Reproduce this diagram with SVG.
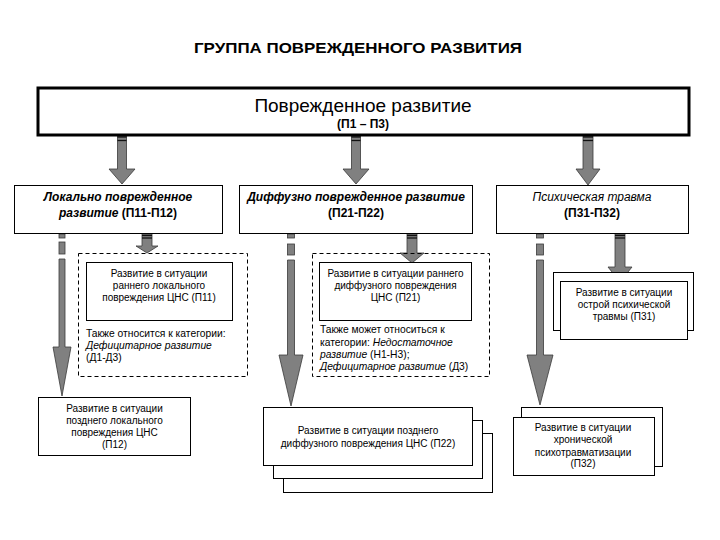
<svg xmlns="http://www.w3.org/2000/svg" width="720" height="540" viewBox="0 0 720 540">
<style>
text{font-family:"Liberation Sans",Arial,sans-serif;fill:#000}
.t{font-size:10px;text-anchor:middle}
.l{font-size:10.3px}
.h{font-size:12px;text-anchor:middle}
.bi{font-weight:bold;font-style:italic}
.i{font-style:italic}
.b{font-weight:bold}
.box{fill:#fff;stroke:#000;stroke-width:1}
.dash{fill:none;stroke:#000;stroke-width:1;stroke-dasharray:4,3}
.arr{fill:#808080;stroke:#3a3a3a;stroke-width:0.8}
.band{stroke:#111;stroke-width:1.3}
</style>
<rect width="720" height="540" fill="#fff"/>
<text x="358" y="53" font-size="15" font-weight="bold" text-anchor="middle" textLength="328" lengthAdjust="spacingAndGlyphs">ГРУППА ПОВРЕЖДЕННОГО РАЗВИТИЯ</text>

<g id="connectors">
<!-- top arrows -->
<path class="arr" d="M117.5,136 L126.5,136 L126.5,169 L135,169 L122,184 L109,169 L117.5,169 Z"/>
<line class="band" x1="117.5" y1="137" x2="126.5" y2="137"/><line class="band" x1="117.5" y1="140.5" x2="126.5" y2="140.5"/>
<path class="arr" d="M351.5,136 L360.5,136 L360.5,169 L369,169 L356,184 L343,169 L351.5,169 Z"/>
<line class="band" x1="351.5" y1="137" x2="360.5" y2="137"/><line class="band" x1="351.5" y1="140.5" x2="360.5" y2="140.5"/>
<path class="arr" d="M583,136 L593,136 L593,169 L600,169 L588,185 L576,169 L583,169 Z"/>
<line class="band" x1="583" y1="137" x2="593" y2="137"/><line class="band" x1="583" y1="140.5" x2="593" y2="140.5"/>
<!-- short second-level arrows -->
<path class="arr" d="M142,234 L152,234 L152,246 L158,246 L147,253 L136,246 L142,246 Z"/>
<line class="band" x1="142" y1="235.5" x2="152" y2="235.5"/><line class="band" x1="142" y1="238" x2="152" y2="238"/>
<path class="arr" d="M407,234 L417,234 L417,253 L424,253 L412,263 L400,253 L407,253 Z"/>
<line class="band" x1="407" y1="235.5" x2="417" y2="235.5"/><line class="band" x1="407" y1="238" x2="417" y2="238"/>
<path class="arr" d="M615,234 L625,234 L625,267 L632,267 L620,282 L608,267 L615,267 Z"/>
<line class="band" x1="615" y1="235.5" x2="625" y2="235.5"/><line class="band" x1="615" y1="238" x2="625" y2="238"/>
<!-- long arrows with broken start -->
<rect class="arr" x="59" y="234" width="6" height="4"/><rect class="arr" x="59" y="242" width="6" height="12"/>
<path class="arr" d="M59,259 L65,259 L65,347 L71,347 L62,396 L53,347 L59,347 Z"/>
<rect class="arr" x="287.5" y="234" width="7" height="4"/><rect class="arr" x="287.5" y="244" width="7" height="11"/>
<path class="arr" d="M287.5,260 L294.5,260 L294.5,355 L303,355 L291,406 L279,355 L287.5,355 Z"/>
<rect class="arr" x="536.5" y="234" width="7" height="4"/><rect class="arr" x="536.5" y="244" width="7" height="11"/>
<path class="arr" d="M536.5,260 L543.5,260 L543.5,355 L553,355 L540,405 L527,355 L536.5,355 Z"/>
</g>

<g id="root">
<rect x="38" y="88" width="651" height="47" fill="#fff" stroke="#000" stroke-width="3"/>
<text x="363" y="112" font-size="19" text-anchor="middle">Поврежденное развитие</text>
<text x="363" y="128" font-size="12" font-weight="bold" text-anchor="middle">(П1 – П3)</text>
</g>

<g id="p1">
<rect class="box" x="14.5" y="185.5" width="208" height="48"/>
<text class="h" x="118" y="201"><tspan class="bi">Локально поврежденное</tspan></text>
<text class="h" x="118" y="217"><tspan class="bi">развитие </tspan><tspan class="b">(П11-П12)</tspan></text>
</g>
<g id="p2">
<rect class="box" x="239.5" y="185.5" width="233" height="48"/>
<text class="h" x="356" y="201"><tspan class="bi">Диффузно поврежденное развитие</tspan></text>
<text class="h b" x="356" y="217">(П21-П22)</text>
</g>
<g id="p3">
<rect class="box" x="496.5" y="185.5" width="192" height="48"/>
<text class="h i" x="592" y="201" font-size="12.5">Психическая травма</text>
<text class="h b" x="592" y="217">(П31-П32)</text>
</g>

<g id="p11">
<rect class="dash" x="78.5" y="253.5" width="169" height="123"/>
<rect class="box" x="86.5" y="262.5" width="146" height="58"/>
<text class="t" x="159" y="277">Развитие в ситуации</text>
<text class="t" x="159" y="289">раннего локального</text>
<text class="t" x="159" y="301">повреждения ЦНС  (П11)</text>
<text class="l" x="86" y="337">Также относится к категории:</text>
<text class="l i" x="86" y="349">Дефицитарное развитие</text>
<text class="l" x="86" y="361">(Д1-Д3)</text>
</g>

<g id="p21">
<rect class="dash" x="312.5" y="253.5" width="177" height="123"/>
<rect class="box" x="319.5" y="262.5" width="152" height="58"/>
<text class="t" x="395.5" y="277">Развитие в ситуации раннего</text>
<text class="t" x="395.5" y="289">диффузного повреждения</text>
<text class="t" x="395.5" y="301">ЦНС (П21)</text>
<text class="l" x="320" y="333">Также может относиться к</text>
<text class="l" x="320" y="346">категории: <tspan class="i">Недостаточное</tspan></text>
<text class="l" x="320" y="358"><tspan class="i">развитие</tspan> (Н1-Н3);</text>
<text class="l" x="320" y="370"><tspan class="i">Дефицитарное развитие</tspan> (Д3)</text>
</g>

<g id="p31">
<rect class="box" x="553.5" y="272.5" width="140" height="58"/>
<rect class="box" x="560.5" y="281.5" width="127" height="58"/>
<text class="t" x="624" y="296">Развитие в ситуации</text>
<text class="t" x="624" y="308">острой психической</text>
<text class="t" x="624" y="320">травмы (П31)</text>
</g>

<g id="p12">
<rect class="box" x="38.5" y="397.5" width="152" height="58"/>
<text class="t" x="114.5" y="412">Развитие в ситуации</text>
<text class="t" x="114.5" y="424">позднего локального</text>
<text class="t" x="114.5" y="436">повреждения ЦНС</text>
<text class="t" x="114.5" y="448">(П12)</text>
</g>

<g id="p22">
<rect class="box" x="283.5" y="433.5" width="209" height="59"/>
<rect class="box" x="273.5" y="420.5" width="209" height="58"/>
<rect class="box" x="263.5" y="407.5" width="209" height="58"/>
<text class="t" x="368" y="434">Развитие в ситуации  позднего</text>
<text class="t" x="368" y="447">диффузного повреждения ЦНС (П22)</text>
</g>

<g id="p32">
<rect class="box" x="521.5" y="407.5" width="141" height="59"/>
<rect class="box" x="513.5" y="417.5" width="141" height="58"/>
<text class="t" x="583" y="431">Развитие в ситуации</text>
<text class="t" x="583" y="443">хронической</text>
<text class="t" x="583" y="456">психотравматизации</text>
<text class="t" x="583" y="467">(П32)</text>
</g>
</svg>
